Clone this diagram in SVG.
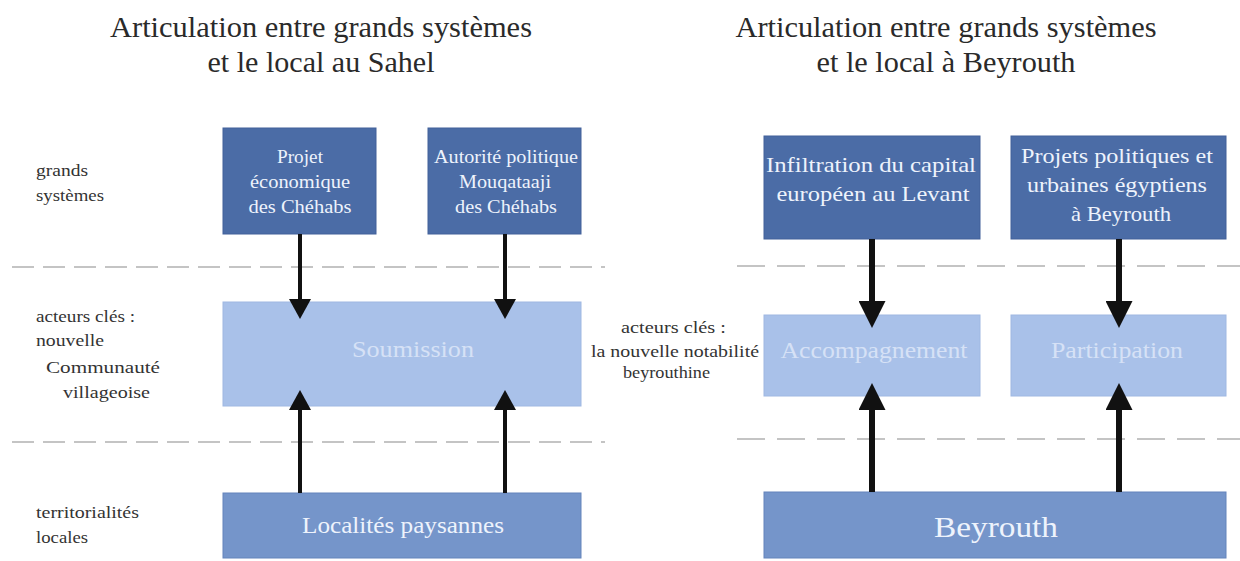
<svg xmlns="http://www.w3.org/2000/svg" width="1240" height="561" viewBox="0 0 1240 561">
<style>
.bg{fill:#ffffff}
.dark{fill:#4b6ca6;stroke:#42619a;stroke-width:1}
.light{fill:#a9c1e9;stroke:#9fb8e2;stroke-width:1}
.mid{fill:#7595ca;stroke:#6584bb;stroke-width:1}
.title{font-family:"Liberation Serif","Times New Roman",serif;font-size:29px;fill:#2a2a2a;text-anchor:middle}
.lab{font-family:"Liberation Serif","Times New Roman",serif;font-size:17px;fill:#333333}
.bt{font-family:"Liberation Serif","Times New Roman",serif;font-size:18px;fill:#eef3fc;text-anchor:middle}
.bt2{font-family:"Liberation Serif","Times New Roman",serif;font-size:21px;fill:#eef3fc;text-anchor:middle}
.lt{font-family:"Liberation Serif","Times New Roman",serif;font-size:23px;fill:#d6e1f6;text-anchor:middle}
.dash{stroke:#c4c4c4;stroke-width:2;stroke-dasharray:22 9;fill:none}
.dash2{stroke:#c4c4c4;stroke-width:2;stroke-dasharray:28 12;fill:none}
.arr{stroke:#111111;stroke-width:4;fill:none}
.arr2{stroke:#111111;stroke-width:6;fill:none}
</style>
<defs>
<marker id="h1" markerUnits="userSpaceOnUse" markerWidth="20" markerHeight="22" viewBox="0 0 20 22" refX="0" refY="11" orient="auto">
<path d="M0,0 L20,11 L0,22 z" fill="#111111"/>
</marker>
<marker id="h2" markerUnits="userSpaceOnUse" markerWidth="27" markerHeight="27" viewBox="0 0 27 27" refX="0" refY="13.5" orient="auto">
<path d="M0,0 L27,13.5 L0,27 z" fill="#111111"/>
</marker>
</defs>
<rect class="bg" x="0" y="0" width="1240" height="561"/>

<g id="titles">
<text class="title" x="321" y="37" textLength="422" lengthAdjust="spacingAndGlyphs">Articulation entre grands systèmes</text>
<text class="title" x="321" y="72" textLength="227" lengthAdjust="spacingAndGlyphs">et le local au Sahel</text>
<text class="title" x="946" y="37" textLength="421" lengthAdjust="spacingAndGlyphs">Articulation entre grands systèmes</text>
<text class="title" x="946" y="72" textLength="259" lengthAdjust="spacingAndGlyphs">et le local à Beyrouth</text>
</g>

<g id="separators">
<line class="dash" x1="12" y1="267" x2="605" y2="267"/>
<line class="dash" x1="12" y1="442" x2="605" y2="442"/>
<line class="dash2" x1="737" y1="266" x2="1240" y2="266"/>
<line class="dash2" x1="737" y1="439" x2="1240" y2="439"/>
</g>

<g id="labels">
<text class="lab" x="36" y="176" textLength="52" lengthAdjust="spacingAndGlyphs">grands</text>
<text class="lab" x="36" y="201" textLength="68" lengthAdjust="spacingAndGlyphs">systèmes</text>
<text class="lab" x="36" y="322" textLength="99" lengthAdjust="spacingAndGlyphs">acteurs clés :</text>
<text class="lab" x="36" y="346" textLength="68" lengthAdjust="spacingAndGlyphs">nouvelle</text>
<text class="lab" x="46" y="373" textLength="114" lengthAdjust="spacingAndGlyphs">Communauté</text>
<text class="lab" x="63" y="398" textLength="87" lengthAdjust="spacingAndGlyphs">villageoise</text>
<text class="lab" x="36" y="518" textLength="103" lengthAdjust="spacingAndGlyphs">territorialités</text>
<text class="lab" x="36" y="543" textLength="52" lengthAdjust="spacingAndGlyphs">locales</text>
<text class="lab" x="621" y="333" textLength="105" lengthAdjust="spacingAndGlyphs">acteurs clés :</text>
<text class="lab" x="591" y="357" textLength="168" lengthAdjust="spacingAndGlyphs">la nouvelle notabilité</text>
<text class="lab" x="623" y="378" textLength="87" lengthAdjust="spacingAndGlyphs">beyrouthine</text>
</g>

<g id="node-projet-economique">
<rect class="dark" x="223" y="128" width="153" height="106"/>
<text class="bt" x="300" y="163" textLength="46" lengthAdjust="spacingAndGlyphs">Projet</text>
<text class="bt" x="300" y="188" textLength="100" lengthAdjust="spacingAndGlyphs">économique</text>
<text class="bt" x="300" y="213" textLength="103" lengthAdjust="spacingAndGlyphs">des Chéhabs</text>
</g>
<g id="node-autorite-politique">
<rect class="dark" x="428" y="128" width="153" height="106"/>
<text class="bt" x="506" y="163" textLength="144" lengthAdjust="spacingAndGlyphs">Autorité politique</text>
<text class="bt" x="505" y="188" textLength="92" lengthAdjust="spacingAndGlyphs">Mouqataaji</text>
<text class="bt" x="506" y="213" textLength="102" lengthAdjust="spacingAndGlyphs">des Chéhabs</text>
</g>
<g id="node-soumission">
<rect class="light" x="223" y="302" width="358" height="104"/>
<text class="lt" x="413" y="357" textLength="122" lengthAdjust="spacingAndGlyphs">Soumission</text>
</g>
<g id="node-localites">
<rect class="mid" x="223" y="493" width="358" height="65"/>
<text class="lt" x="403" y="533" style="fill:#eef3fc" textLength="202" lengthAdjust="spacingAndGlyphs">Localités paysannes</text>
</g>

<g id="node-infiltration">
<rect class="dark" x="764" y="136" width="216" height="103"/>
<text class="bt2" x="871" y="172" textLength="210" lengthAdjust="spacingAndGlyphs">Infiltration du capital</text>
<text class="bt2" x="873" y="201" textLength="193" lengthAdjust="spacingAndGlyphs">européen au Levant</text>
</g>
<g id="node-projets-politiques">
<rect class="dark" x="1011" y="136" width="215" height="103"/>
<text class="bt2" x="1117" y="163" textLength="192" lengthAdjust="spacingAndGlyphs">Projets politiques et</text>
<text class="bt2" x="1117" y="192" textLength="180" lengthAdjust="spacingAndGlyphs">urbaines égyptiens</text>
<text class="bt2" x="1121" y="221" textLength="100" lengthAdjust="spacingAndGlyphs">à Beyrouth</text>
</g>
<g id="node-accompagnement">
<rect class="light" x="764" y="315" width="216" height="81"/>
<text class="lt" x="874" y="358" textLength="187" lengthAdjust="spacingAndGlyphs">Accompagnement</text>
</g>
<g id="node-participation">
<rect class="light" x="1011" y="315" width="215" height="81"/>
<text class="lt" x="1117" y="358" textLength="132" lengthAdjust="spacingAndGlyphs">Participation</text>
</g>
<g id="node-beyrouth">
<rect class="mid" x="764" y="492" width="462" height="66"/>
<text class="lt" x="996" y="537" style="font-size:30px;fill:#eef3fc" textLength="124" lengthAdjust="spacingAndGlyphs">Beyrouth</text>
</g>

<g id="connectors">
<line class="arr" x1="300" y1="234" x2="300" y2="299" marker-end="url(#h1)"/>
<line class="arr" x1="505" y1="234" x2="505" y2="299" marker-end="url(#h1)"/>
<line class="arr" x1="300" y1="493" x2="300" y2="410" marker-end="url(#h1)"/>
<line class="arr" x1="505" y1="493" x2="505" y2="410" marker-end="url(#h1)"/>
<line class="arr2" x1="872" y1="239" x2="872" y2="301" marker-end="url(#h2)"/>
<line class="arr2" x1="1119" y1="239" x2="1119" y2="301" marker-end="url(#h2)"/>
<line class="arr2" x1="872" y1="492" x2="872" y2="410" marker-end="url(#h2)"/>
<line class="arr2" x1="1119" y1="492" x2="1119" y2="410" marker-end="url(#h2)"/>
</g>
</svg>
